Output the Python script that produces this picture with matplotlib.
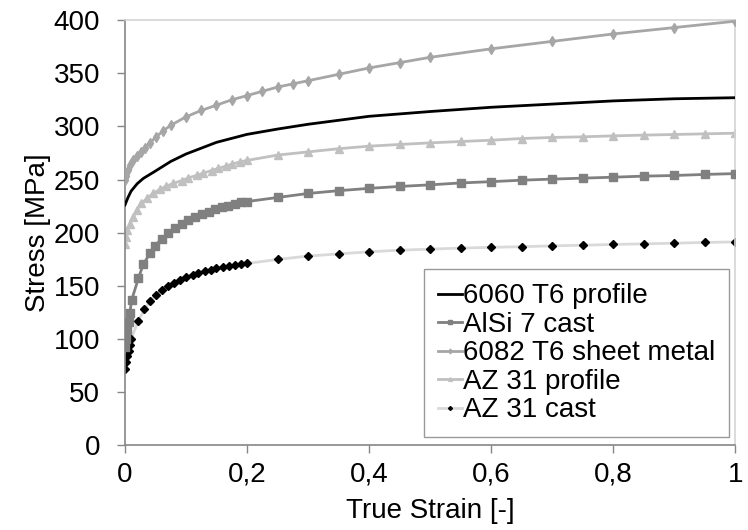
import numpy as np
import matplotlib
matplotlib.use("Agg")
import matplotlib.pyplot as plt

plt.rcParams['font.family'] = ['Liberation Sans', 'DejaVu Sans']

# 6060 T6 profile (line only)
strain_6060 = [0, 0.005, 0.01, 0.02, 0.03, 0.05, 0.075, 0.1, 0.15, 0.2, 0.25, 0.3, 0.4, 0.5, 0.6, 0.7, 0.8, 0.9, 1.0]
stress_6060 = [226, 233, 239, 246, 251, 258, 267, 274, 285, 292.5, 297.5, 302, 309.5, 314, 318, 321, 324, 326, 327]

# AlSi 7 cast
strain_alsi = [0, 0.002, 0.004, 0.006, 0.008, 0.011, 0.022, 0.03, 0.041, 0.049, 0.06, 0.071, 0.082,
               0.093, 0.104, 0.115, 0.126, 0.137, 0.148, 0.159, 0.169, 0.18, 0.191, 0.2,
               0.25, 0.3, 0.35, 0.4, 0.45, 0.5, 0.55, 0.6, 0.65, 0.7, 0.75, 0.8, 0.85, 0.9, 0.95, 1.0]
stress_alsi = [92, 100, 108, 116, 124, 136.5, 156.9, 170.1, 180.5, 187.6, 193.9, 199.3, 204,
               208, 211.8, 214.9, 217.4, 219.6, 221.9, 223.8, 225.3, 226.8, 228.4, 229.3,
               233.1, 236.9, 239.5, 241.7, 243.5, 245, 246.8, 248, 249.4, 250.4, 251.3, 252.2, 253.2, 253.8, 254.8, 255.6]

# 6082 T6 sheet metal
strain_6082 = [0, 0.002, 0.005, 0.009, 0.014, 0.019, 0.026, 0.033, 0.041, 0.051, 0.063, 0.075,
               0.1, 0.125, 0.15, 0.175, 0.2, 0.225, 0.25, 0.275, 0.3, 0.35, 0.4, 0.45, 0.5,
               0.6, 0.7, 0.8, 0.9, 1.0]
stress_6082 = [250, 253, 259, 264, 268.5, 272, 276, 280, 284.5, 290, 296, 301,
               309, 315, 320, 325, 329, 333, 337, 340, 343, 349, 355, 360, 365,
               373, 380, 387, 393, 399]

# AZ 31 profile
strain_az31p = [0, 0.002, 0.004, 0.008, 0.014, 0.019, 0.027, 0.036, 0.046, 0.057, 0.068, 0.079,
                0.093, 0.104, 0.118, 0.128, 0.142, 0.153, 0.165, 0.175, 0.188, 0.2,
                0.25, 0.3, 0.35, 0.4, 0.45, 0.5, 0.55, 0.6, 0.65, 0.7, 0.75, 0.8, 0.85, 0.9, 0.95, 1.0]
stress_az31p = [189, 196, 202.4, 208.6, 214.9, 221.2, 227.5, 232.2, 236.9, 240.7, 243.8, 246.3,
                249, 251.5, 254, 256, 258.5, 260.5, 262.5, 264.5, 266.5, 268,
                273, 276, 279, 281.4, 283, 284.5, 285.8, 287, 288.6, 289.6, 290.2, 291.1, 291.8, 292.4, 293, 293.6]

# AZ 31 cast
strain_az31c = [0, 0.002, 0.004, 0.006, 0.008, 0.01, 0.022, 0.032, 0.041, 0.051, 0.06, 0.071, 0.08,
                0.09, 0.1, 0.111, 0.12, 0.131, 0.141, 0.15, 0.16, 0.17, 0.18, 0.19, 0.2,
                0.25, 0.3, 0.35, 0.4, 0.45, 0.5, 0.55, 0.6, 0.65, 0.7, 0.75, 0.8, 0.85, 0.9, 0.95, 1.0]
stress_az31c = [72, 78, 84, 89, 94, 100, 117, 127.7, 135.5, 141.2, 145.6, 149.6, 153.1,
                155.9, 158.4, 160.6, 162.1, 163.8, 165.3, 166.3, 167.5, 168.5, 169.4, 170.4, 171,
                174.8, 178, 180, 182, 183.5, 184.5, 185.5, 186.2, 186.8, 187.6, 188.2, 188.9, 189.5, 190.1, 190.8, 191.3]

fig = plt.figure(figsize=(7.48, 5.30), dpi=100)
ax = fig.add_axes([0.167, 0.160, 0.816, 0.802])

ax.plot(strain_6060, stress_6060, color='black', lw=2, label='6060 T6 profile', zorder=5)
ax.plot(strain_alsi, stress_alsi, color='#808080', lw=2, marker='s', ms=5.5, mec='#808080',
        label='AlSi 7 cast', zorder=4)
ax.plot(strain_6082, stress_6082, color='#a6a6a6', lw=2, marker='d', ms=5, mec='#a6a6a6',
        label='6082 T6 sheet metal', zorder=3)
ax.plot(strain_az31p, stress_az31p, color='#c0c0c0', lw=2, marker='^', ms=5.5, mec='#c0c0c0',
        label='AZ 31 profile', zorder=2)
ax.plot(strain_az31c, stress_az31c, color='#d9d9d9', lw=2, marker='D', ms=4, mfc='black', mec='black',
        label='AZ 31 cast', zorder=2)

ax.set_xlim(0, 1)
ax.set_ylim(0, 400)
ax.set_xticks([0, 0.2, 0.4, 0.6, 0.8, 1])
ax.set_xticklabels(['0', '0,2', '0,4', '0,6', '0,8', '1'])
ax.set_yticks(range(0, 401, 50))

for s in ['top', 'right']:
    ax.spines[s].set_color('#d4d4d4')
    ax.spines[s].set_linewidth(1.2)
for s in ['left', 'bottom']:
    ax.spines[s].set_color('#868686')
    ax.spines[s].set_linewidth(1.2)
ax.tick_params(axis='both', direction='out', length=6, width=1, color='#868686',
               labelsize=20)
ax.tick_params(axis='y', pad=12)
ax.tick_params(axis='x', pad=6)

ax.set_xlabel('True Strain [-]', fontsize=20, labelpad=7)
ax.set_ylabel('Stress [MPa]', fontsize=20, labelpad=2)

leg = ax.legend(loc='lower right', bbox_to_anchor=(0.990, 0.019), fontsize=20, frameon=True,
                fancybox=False, edgecolor='#808080', handlelength=0.85, handletextpad=0.05,
                borderpad=0.5, labelspacing=0.09, markerscale=0.5, borderaxespad=0)
leg.get_frame().set_linewidth(1)

plt.savefig('out.png', dpi=100)
